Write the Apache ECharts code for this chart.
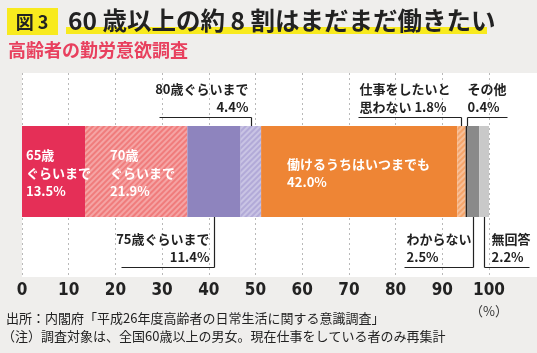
<!DOCTYPE html>
<html>
<head>
<meta charset="utf-8">
<script src="https://cdn.jsdelivr.net/npm/echarts@6/dist/echarts.min.js"></script>
<style>
    html, body { margin: 0; padding: 0; background: #efeeec; }
    #chart { width: 537px; height: 353px; }
</style>
</head>
<body>
<div id="chart"></div>
<script>
// 高齢者の勤労意欲調査（内閣府）
var categories = ['65歳ぐらいまで', '70歳ぐらいまで', '75歳ぐらいまで', '80歳ぐらいまで', '働けるうちはいつまでも',
    '仕事をしたいと思わない', 'その他', 'わからない', '無回答'];
var values = [13.5, 21.9, 11.4, 4.4, 42.0, 1.8, 0.4, 2.5, 2.2];
var barLabels = ['65歳\nぐらいまで\n13.5%', '70歳\nぐらいまで\n21.9%', '', '', '働けるうちはいつまでも\n42.0%', '', '', '', ''];
var calloutLabels = ['', '', '75歳ぐらいまで\n11.4%', '80歳ぐらいまで\n4.4%', '', '仕事をしたいと\n思わない 1.8%',
    'その他\n0.4%', 'わからない\n2.5%', '無回答\n2.2%'];
var axisMin = 0, axisMax = 100, axisStep = 10;

var colors = ['#e52f57', '#f07c7c', '#8e84be', '#b2aad8', '#ee8535', '#f4a46a', '#222222', '#8a8a8a', '#c9c9c9'];
var hatched = [false, true, false, true, false, true, false, false, false];
var labelGap = [4, 25, 0, 0, 26, 0, 0, 0, 0];

// callout layout: side, text anchor offset, horizontal line from/to (relative to leader x)
var callouts = {
    2: {side: 'bottom', align: 'right', tx: -5, l0: -93, l1: 0},
    3: {side: 'top', align: 'right', tx: -3, l0: -92, l1: 0},
    5: {side: 'top', align: 'left', tx: -102, l0: -103, l1: 0},
    6: {side: 'top', align: 'left', tx: 0, l0: 0, l1: 40},
    7: {side: 'bottom', align: 'left', tx: -67, l0: -69, l1: 0},
    8: {side: 'bottom', align: 'left', tx: 7, l0: 0, l1: 45}
};

var jp = '"Noto Sans CJK JP", "Noto Sans", sans-serif';

var myChart = echarts.init(document.getElementById('chart'));

var series = values.map(function (v, i) {
    var style = {color: colors[i]};
    if (hatched[i]) {
        style.decal = {
            symbol: 'rect',
            symbolSize: 1,
            dashArrayX: [[1, 0]],
            dashArrayY: [2, 2],
            rotation: -Math.PI / 4,
            color: 'rgba(255,255,255,0.3)'
        };
    }
    return {
        name: categories[i],
        type: 'bar',
        stack: 'all',
        xAxisIndex: 1,
        yAxisIndex: 1,
        barWidth: '100%',
        silent: true,
        itemStyle: style,
        label: {
            show: barLabels[i] !== '',
            position: 'insideLeft',
            distance: labelGap[i],
            offset: [0, 2],
            formatter: barLabels[i],
            color: '#fff',
            fontFamily: jp,
            fontWeight: 'bold',
            fontSize: 13,
            lineHeight: 18,
            align: 'left'
        },
        data: [v]
    };
});

var option = {
    backgroundColor: '#efeeec',
    animation: false,
    grid: [
        {left: 22, right: 48, top: 73, bottom: 76},
        {left: 22, right: 48, top: 126, height: 91}
    ],
    xAxis: [
        {
            gridIndex: 0, type: 'value', min: axisMin, max: axisMax, interval: axisStep,
            axisLine: {show: false}, axisTick: {show: false},
            splitLine: {show: true, lineStyle: {color: '#b9b9b9', type: [2, 3], width: 1}},
            axisLabel: {
                margin: 4,
                color: '#222',
                fontFamily: '"Liberation Sans Narrow", "DejaVu Sans Condensed", sans-serif',
                fontWeight: 'bold',
                fontSize: 17,
                lineHeight: 20,
                formatter: function (v) {
                    return v === axisMax ? v + '\n{p|（%）}' : '' + v;
                },
                rich: {p: {fontFamily: jp, fontSize: 13, fontWeight: 'normal', color: '#333', lineHeight: 20}}
            }
        },
        {gridIndex: 1, type: 'value', min: axisMin, max: axisMax, show: false}
    ],
    yAxis: [
        {gridIndex: 0, type: 'category', data: [''], show: false},
        {gridIndex: 1, type: 'category', data: [''], show: false}
    ],
    series: series
};

myChart.setOption(option);

// 背景・タイトル・出典
var g = [
    {type: 'rect', z: -10, shape: {x: 22, y: 73, width: 515, height: 204}, style: {fill: '#fff'}},
    {type: 'rect', shape: {x: 7, y: 8, width: 51, height: 27}, style: {fill: '#f8ea1e'}},
    {type: 'text', style: {text: '図 3', x: 32, y: 22, textAlign: 'center', textVerticalAlign: 'middle',
        font: 'bold 18px ' + jp, fill: '#222'}},
    {type: 'rect', shape: {x: 66, y: 27, width: 421, height: 7}, style: {fill: '#f8ea1e'}},
    {type: 'text', style: {text: '60 歳以上の約 8 割はまだまだ働きたい', x: 68, y: 21, textVerticalAlign: 'middle',
        font: 'bold 24.5px ' + jp, fill: '#222'}},
    {type: 'text', style: {text: '高齢者の勤労意欲調査', x: 8, y: 50, textVerticalAlign: 'middle',
        font: 'bold 18px ' + jp, fill: '#e8405e'}},
    {type: 'text', style: {text: '出所：内閣府「平成26年度高齢者の日常生活に関する意識調査」', x: 6, y: 318,
        textVerticalAlign: 'middle', font: '13px ' + jp, fill: '#222'}},
    {type: 'text', style: {text: '（注）調査対象は、全国60歳以上の男女。現在仕事をしている者のみ再集計', x: 2, y: 336,
        textVerticalAlign: 'middle', font: '13px ' + jp, fill: '#222'}}
];

// 引き出し線
var barTop = 126, barBottom = 217;
var start = 0;
values.forEach(function (v, i) {
    var c = callouts[i];
    var mid = start + v / 2;
    start += v;
    if (!c) return;
    var px = Math.round(myChart.convertToPixel({xAxisIndex: 1}, mid)) + 0.5;
    var top = c.side === 'top';
    var hy = top ? 117.5 : 267.5;
    var vEnd = top ? (i === 6 ? barTop : barTop + 11) : barBottom - 8;
    g.push({type: 'polyline', shape: {points: [[px + c.l0, hy], [px + c.l1, hy]]},
        style: {stroke: '#222', lineWidth: 1.2, fill: null}});
    g.push({type: 'polyline', shape: {points: [[px, hy], [px, vEnd]]},
        style: {stroke: '#222', lineWidth: 1.2, fill: null}});
    g.push({type: 'text', style: {
        text: calloutLabels[i], x: px + c.tx, y: top ? 98 : 248.5,
        textAlign: c.align, textVerticalAlign: 'middle',
        font: 'bold 13px ' + jp, lineHeight: 18, fill: '#222'
    }});
});

myChart.setOption({graphic: g});
</script>
</body>
</html>
